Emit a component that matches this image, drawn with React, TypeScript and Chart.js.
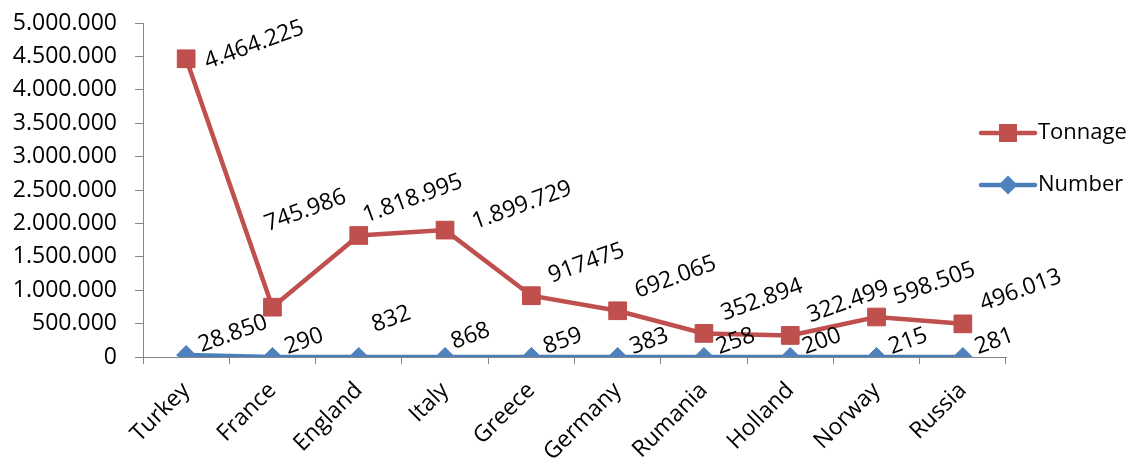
import React, { useEffect, useRef } from "react";
import { Chart, registerables } from "chart.js";

Chart.register(...registerables);

// Ports and their shipping totals
const countries = [
  "Turkey",
  "France",
  "England",
  "Italy",
  "Greece",
  "Germany",
  "Rumania",
  "Holland",
  "Norway",
  "Russia",
];

// Value labels exactly as printed; the plotted values are parsed from them
const tonnageText = [
  "4.464.225",
  "745.986",
  "1.818.995",
  "1.899.729",
  "917475",
  "692.065",
  "352.894",
  "322.499",
  "598.505",
  "496.013",
];
const numberText = ["28.850", "290", "832", "868", "859", "383", "258", "200", "215", "281"];

const toValue = (s: string) => Number(s.replace(/\./g, ""));
const tonnage = tonnageText.map(toValue);
const numbers = numberText.map(toValue);

const yMin = 0;
const yMax = 5000000;
const yStep = 500000;

const RED = "#C0504D";
const RED_EDGE = "#BE4B48";
const BLUE = "#4F81BD";
const BLUE_LINE = "#4A7EBB";
const AXIS = "#868686";
const FONT = "'Open Sans', 'Noto Sans', sans-serif";
const FONT_SIZE = 23;

const withDots = (n: number) =>
  String(Math.round(n)).replace(/\B(?=(\d{3})+(?!\d))/g, ".");

// Rotated value labels next to each point: a default offset from the point,
// plus hand nudges for labels that were dragged clear of the lines.
const labelSets: {
  texts: string[];
  dx: number;
  dy: number;
  nudge: Record<number, [number, number]>;
}[] = [
  {
    texts: tonnageText,
    dx: 18,
    dy: -19,
    nudge: { 0: [1, 23], 1: [-25, -63], 2: [-13, 0], 3: [10, 12] },
  },
  { texts: numberText, dx: 13, dy: -9, nudge: { 2: [1, -22], 3: [-6, -5] } },
];

const valueLabels = {
  id: "valueLabels",
  afterDatasetsDraw(chart: any) {
    const ctx: CanvasRenderingContext2D = chart.ctx;
    labelSets.forEach((set, i) => {
      const meta = chart.getDatasetMeta(i);
      meta.data.forEach((pt: any, j: number) => {
        const [nx, ny] = set.nudge[j] || [0, 0];
        ctx.save();
        ctx.translate(pt.x + set.dx + nx, pt.y + set.dy + ny);
        ctx.rotate((-20 * Math.PI) / 180);
        ctx.font = `${FONT_SIZE}px ${FONT}`;
        ctx.fillStyle = "#000";
        ctx.textAlign = "left";
        ctx.textBaseline = "middle";
        ctx.fillText(set.texts[j], 0, 0);
        ctx.restore();
      });
    });
  },
};

// Legend on the right: line with marker, then series name
const sideLegend = {
  id: "sideLegend",
  afterDraw(chart: any) {
    const ctx: CanvasRenderingContext2D = chart.ctx;
    const rows = [
      { label: chart.data.datasets[0].label, color: RED, shape: "square", y: 133 },
      { label: chart.data.datasets[1].label, color: BLUE_LINE, shape: "diamond", y: 185 },
    ];
    const x0 = 981;
    const x1 = 1035;
    const mx = (x0 + x1) / 2;
    rows.forEach((r) => {
      ctx.save();
      ctx.strokeStyle = r.color;
      ctx.lineWidth = 4.5;
      ctx.lineCap = "round";
      ctx.beginPath();
      ctx.moveTo(x0, r.y);
      ctx.lineTo(x1, r.y);
      ctx.stroke();
      ctx.fillStyle = r.shape === "square" ? RED : BLUE;
      ctx.beginPath();
      if (r.shape === "square") {
        ctx.rect(mx - 9, r.y - 9, 18, 18);
      } else {
        ctx.moveTo(mx, r.y - 9.5);
        ctx.lineTo(mx + 9.5, r.y);
        ctx.lineTo(mx, r.y + 9.5);
        ctx.lineTo(mx - 9.5, r.y);
        ctx.closePath();
      }
      ctx.fill();
      ctx.font = `${FONT_SIZE - 1}px ${FONT}`;
      ctx.fillStyle = "#000";
      ctx.textAlign = "left";
      ctx.textBaseline = "middle";
      ctx.fillText(r.label, x1 + 3, r.y);
      ctx.restore();
    });
  },
};

export default function App() {
  const canvasRef = useRef<HTMLCanvasElement | null>(null);

  useEffect(() => {
    if (!canvasRef.current) return;
    const chart = new Chart(canvasRef.current, {
      type: "line",
      data: {
        labels: countries,
        datasets: [
          {
            label: "Tonnage",
            data: tonnage,
            borderColor: RED,
            borderWidth: 4.5,
            backgroundColor: RED,
            pointStyle: "rect",
            pointRadius: 12.5,
            pointHoverRadius: 12.5,
            pointBackgroundColor: RED,
            pointBorderColor: RED_EDGE,
            pointBorderWidth: 1,
            tension: 0,
            fill: false,
          },
          {
            label: "Number",
            data: numbers,
            borderColor: BLUE_LINE,
            borderWidth: 4.5,
            backgroundColor: BLUE,
            pointStyle: "rectRot",
            pointRadius: 9.5,
            pointHoverRadius: 9.5,
            pointBackgroundColor: BLUE,
            pointBorderColor: BLUE,
            pointBorderWidth: 1,
            tension: 0,
            fill: false,
          },
        ],
      },
      options: {
        responsive: false,
        animation: false,
        events: [],
        layout: { padding: { left: 0, right: 127, top: 23, bottom: 0 } },
        plugins: {
          legend: { display: false },
          tooltip: { enabled: false },
        },
        scales: {
          x: {
            offset: true,
            grid: {
              offset: true,
              drawOnChartArea: false,
              drawTicks: true,
              tickLength: 7,
              color: AXIS,
              lineWidth: 1,
            },
            border: { color: AXIS, width: 1 },
            ticks: {
              autoSkip: false,
              maxRotation: 45,
              minRotation: 45,
              padding: 13,
              color: "#000",
              font: { family: FONT, size: FONT_SIZE },
            },
            afterFit(scale: any) {
              scale.height = 109;
            },
          },
          y: {
            min: yMin,
            max: yMax,
            grid: {
              drawOnChartArea: false,
              drawTicks: true,
              tickLength: 8,
              color: AXIS,
              lineWidth: 1,
            },
            border: { color: AXIS, width: 1 },
            ticks: {
              stepSize: yStep,
              padding: 18,
              color: "#000",
              font: { family: FONT, size: FONT_SIZE },
              callback: (v: any) => withDots(Number(v)),
            },
            afterFit(scale: any) {
              scale.width = 143;
              scale.paddingTop = 0;
              scale.paddingBottom = 0;
            },
          },
        },
      },
      plugins: [valueLabels, sideLegend],
    });
    return () => chart.destroy();
  }, []);

  return (
    <div
      style={{
        position: "fixed",
        left: 0,
        top: 0,
        width: 1133,
        height: 466,
        background: "#fff",
      }}
    >
      <canvas ref={canvasRef} width={1133} height={466} style={{ display: "block" }} />
    </div>
  );
}
